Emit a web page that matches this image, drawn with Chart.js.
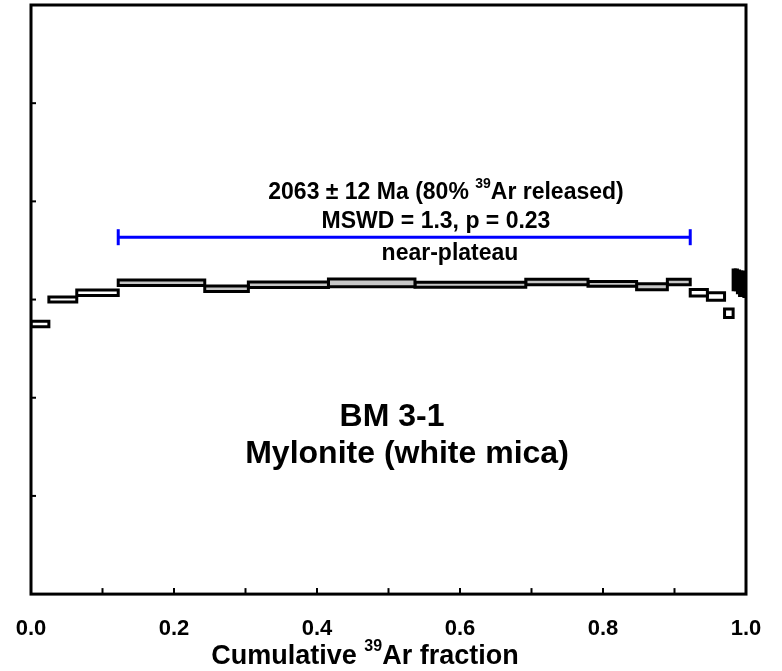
<!DOCTYPE html>
<html>
<head>
<meta charset="utf-8">
<script src="https://cdn.jsdelivr.net/npm/chart.js@4.4.0/dist/chart.umd.min.js"></script>
<style>
  html, body { margin:0; padding:0; background:#fff; }
</style>
</head>
<body>
<canvas id="spectrum" width="782" height="671"></canvas>
<script>
// ====== data ======
// step edges on cumulative 39Ar fraction
const stepEdges = [0, 0.025, 0.064, 0.122, 0.243, 0.304, 0.416, 0.537, 0.692, 0.779, 0.847, 0.890, 0.922, 0.946, 0.970, 0.982, 0.985, 0.988, 0.991, 0.994, 0.997, 1.0];
// apparent age (Ma) and 1 sigma of each step
const stepAges = [2025, 2050, 2057, 2067, 2061, 2065, 2067, 2065, 2068, 2066, 2063, 2068, 2057, 2053, 2036, 2070, 2070, 2068, 2066, 2066, 2065];
const stepErrs = [2.8, 2.5, 2.8, 2.8, 2.9, 2.8, 3.9, 2.5, 2.8, 2.4, 3.1, 2.8, 3.3, 3.8, 4.3, 10, 10, 11, 12, 12, 12];
const inPlateau = [0, 0, 0, 1, 1, 1, 1, 1, 1, 1, 1, 1, 0, 0, 0, 0, 0, 0, 0, 0, 0];
const plateauRange = [0.122, 0.922];
const plateauBarAge = 2113.5;
const xLabelEvery = 2; // labels on 0.0, 0.2 ...

const FONT = '"Liberation Sans", Arial, sans-serif';

// ====== datasets ======
const stepSets = stepAges.map((age, i) => {
  const x0 = stepEdges[i], x1 = stepEdges[i + 1];
  const lo = age - stepErrs[i], hi = age + stepErrs[i];
  return {
    data: [{x: x0, y: lo}, {x: x0, y: hi}, {x: x1, y: hi}, {x: x1, y: lo}, {x: x0, y: lo}],
    borderColor: '#000',
    borderWidth: 3,
    borderJoinStyle: 'miter',
    borderCapStyle: 'square',
    backgroundColor: inPlateau[i] ? '#c6c6c6' : '#ffffff',
    fill: 'shape',
    pointRadius: 0,
    tension: 0
  };
});

const plateauSet = {
  data: plateauRange.map(x => ({x, y: plateauBarAge})),
  borderColor: '#0000ff',
  borderWidth: 3,
  fill: false,
  pointStyle: 'line',
  rotation: 90,
  pointRadius: 8,
  pointBorderColor: '#0000ff',
  pointBorderWidth: 3,
  tension: 0
};

// text + superscript helper
function drawRich(ctx, parts, cx, cy, size) {
  const big = 'bold ' + size + 'px ' + FONT;
  const small = 'bold ' + Math.round(size * 0.6) + 'px ' + FONT;
  let total = 0;
  parts.forEach(p => { ctx.font = p.sup ? small : big; total += ctx.measureText(p.t).width; });
  let x = cx - total / 2;
  ctx.textBaseline = 'middle';
  ctx.textAlign = 'left';
  parts.forEach(p => {
    ctx.font = p.sup ? small : big;
    ctx.fillText(p.t, x, p.sup ? cy - size * 0.38 : cy);
    x += ctx.measureText(p.t).width;
  });
}

const framePlugin = {
  id: 'frame',
  afterDraw(chart) {
    const {ctx, chartArea: a, scales} = chart;
    ctx.save();
    ctx.fillStyle = '#000';
    ctx.strokeStyle = '#000';

    // inner tick marks
    ctx.lineWidth = 2;
    scales.x.ticks.forEach(t => {
      const px = scales.x.getPixelForValue(t.value);
      if (px <= a.left + 2 || px >= a.right - 2) return;
      ctx.beginPath(); ctx.moveTo(px, a.bottom); ctx.lineTo(px, a.bottom - 6); ctx.stroke();
    });
    scales.y.ticks.forEach(t => {
      const py = scales.y.getPixelForValue(t.value);
      if (py <= a.top + 2 || py >= a.bottom - 2) return;
      ctx.beginPath(); ctx.moveTo(a.left, py); ctx.lineTo(a.left + 5, py); ctx.stroke();
    });

    // box
    ctx.lineWidth = 3;
    ctx.strokeRect(a.left, a.top, a.right - a.left, a.bottom - a.top);

    // annotations
    drawRich(ctx, [{t: '2063 ± 12 Ma (80% '}, {t: '39', sup: true}, {t: 'Ar released)'}], 446, 193, 23);
    drawRich(ctx, [{t: 'MSWD = 1.3, p = 0.23'}], 436, 222, 23);
    drawRich(ctx, [{t: 'near-plateau'}], 450, 254, 23);
    drawRich(ctx, [{t: 'BM 3-1'}], 392, 417, 32);
    drawRich(ctx, [{t: 'Mylonite (white mica)'}], 407, 454, 32);

    // axis title
    drawRich(ctx, [{t: 'Cumulative '}, {t: '39', sup: true}, {t: 'Ar fraction'}], 365, 657, 27);
    ctx.restore();
  }
};

const chart = new Chart(document.getElementById('spectrum'), {
  type: 'line',
  data: { datasets: [...stepSets, plateauSet] },
  options: {
    responsive: false,
    animation: false,
    devicePixelRatio: 1,
    layout: { autoPadding: false, padding: { left: 31, right: 36, top: 5, bottom: 28.5 } },
    plugins: { legend: { display: false }, tooltip: { enabled: false } },
    scales: {
      x: {
        type: 'linear', min: 0, max: 1,
        // invisible tick marks only push the labels down
        grid: { display: true, drawOnChartArea: false, drawTicks: true, tickLength: 22, tickColor: 'rgba(0,0,0,0)' },
        border: { display: false },
        ticks: {
          stepSize: 0.1, autoSkip: false, maxRotation: 0, padding: 0,
          color: '#000',
          font: { family: FONT, size: 22, weight: 'bold' },
          callback: (v, i) => i % xLabelEvery === 0 ? v.toFixed(1) : ''
        }
      },
      y: {
        type: 'linear', min: 1750, max: 2350,
        grid: { display: false, drawTicks: false },
        border: { display: false },
        ticks: { stepSize: 100, display: false }
      }
    }
  },
  plugins: [framePlugin]
});
</script>
</body>
</html>
